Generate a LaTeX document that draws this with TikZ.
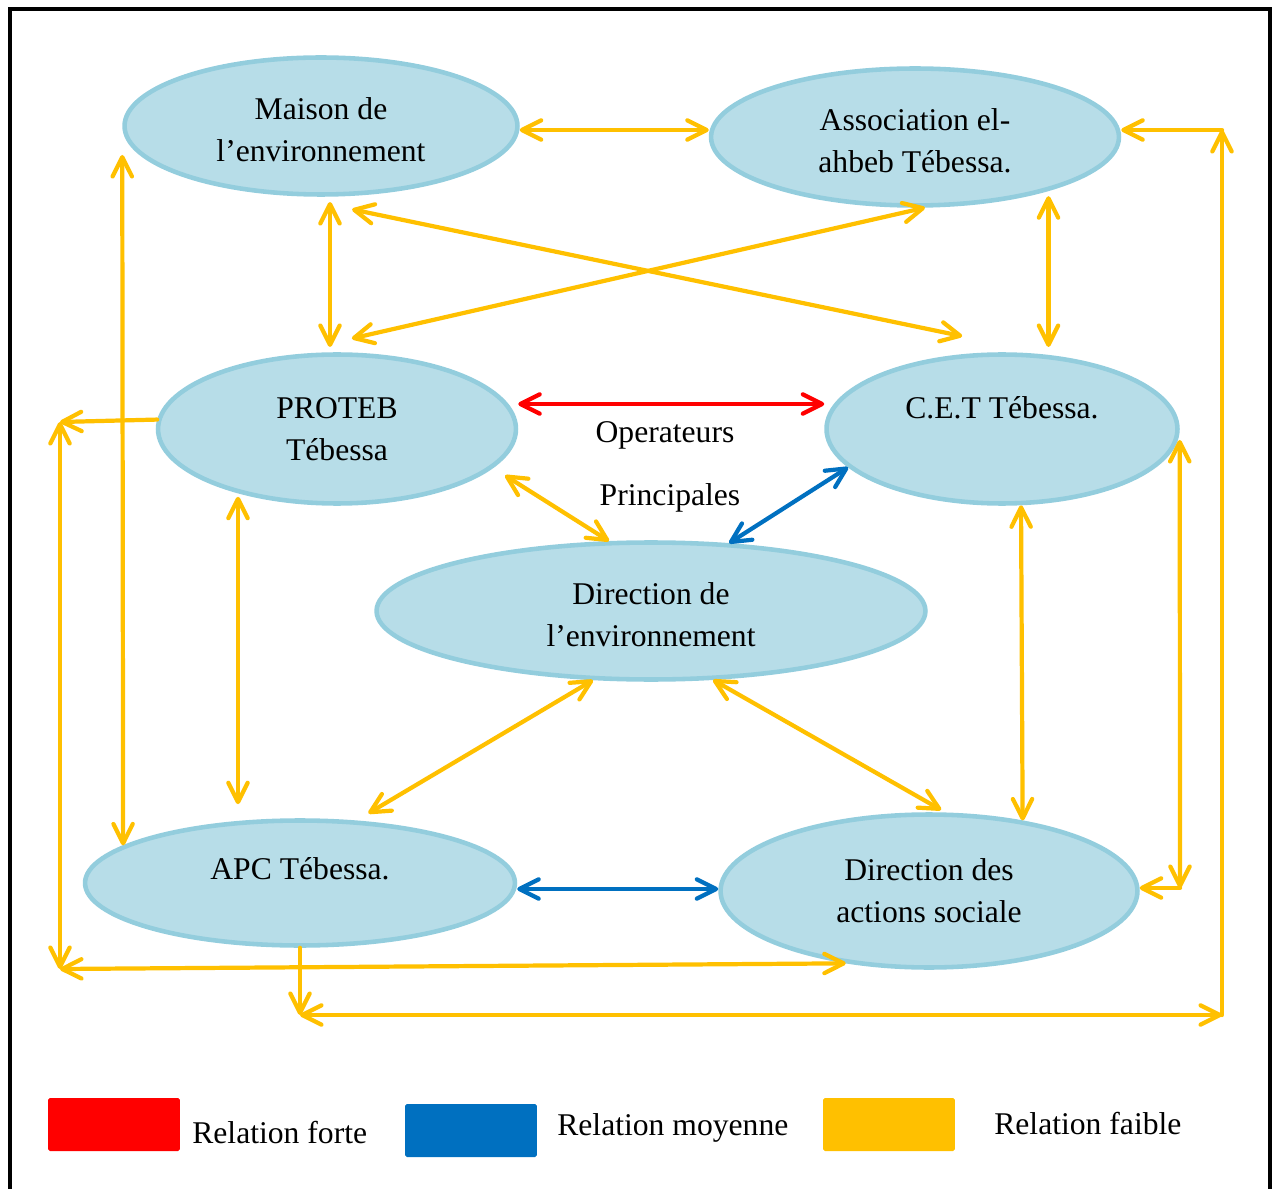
\documentclass[tikz,border=0pt]{standalone}
\usepackage{fontspec}
\setmainfont{Liberation Serif}
\usetikzlibrary{arrows.meta,calc,shapes.geometric}
\definecolor{RelForte}{HTML}{FF0000}
\definecolor{RelMoyenne}{HTML}{0070C0}
\definecolor{RelFaible}{HTML}{FFC000}
\definecolor{BulleFond}{HTML}{B7DDE8}
\definecolor{BulleBord}{HTML}{93CDDD}
\newcommand{\baisse}[1]{\raisebox{-2.2pt}[\height][\depth]{#1}}

\begin{document}
\begin{tikzpicture}[x=0.02cm,y=-0.02cm,
  font=\fontsize{18}{23.8}\selectfont,
  >={Straight Barb[length=11pt,width=11pt,round]},
  bulle/.style={ellipse,draw=BulleBord,fill=BulleFond,line width=2.6pt,inner sep=0pt,align=center},
  lien/.style={line width=2.4pt,line cap=round,<->},
  forte/.style={lien,draw=RelForte},
  moyenne/.style={lien,draw=RelMoyenne},
  faible/.style={lien,draw=RelFaible},
  legende/.style={minimum width=2.64cm,minimum height=1.06cm,inner sep=0pt,rounded corners=1pt}]
  \useasboundingbox (0,0) rectangle (1275,1189);
  \draw[line width=2.6pt] (10,9) rectangle (1270,1220);

  % acteurs
  \node[bulle,minimum width=7.86cm,minimum height=2.74cm] (maison) at (321,126) {\baisse{Maison de}\\\baisse{l’environnement}};
  \node[bulle,minimum width=8.16cm,minimum height=2.74cm] (assoc) at (915,137) {\baisse{Association el-}\\\baisse{ahbeb Tébessa.}};
  \node[bulle,minimum width=7.16cm,minimum height=2.98cm] (proteb) at (337,429) {PROTEB\\Tébessa};
  \node[bulle,minimum width=7.02cm,minimum height=2.98cm] (cet) at (1002,429) {\raisebox{12pt}[\height][\depth]{C.E.T Tébessa.}};
  \node[bulle,minimum width=10.98cm,minimum height=2.74cm] (direnv) at (651,611) {\baisse{Direction de}\\\baisse{l’environnement}};
  \node[bulle,minimum width=8.6cm,minimum height=2.5cm] (apc) at (300,883) {\raisebox{8pt}[\height][\depth]{APC Tébessa.}};
  \node[bulle,minimum width=8.34cm,minimum height=3.06cm] (dact) at (929,891) {Direction des\\actions sociale};

  \node[anchor=base] (ops) at (665,443) {Operateurs};
  \node[anchor=base] (princ) at (670,505) {Principales};

  % coins des liens en equerre
  \coordinate (coinA) at (60,422);
  \coordinate (coinB) at (60,969);
  \coordinate (coinC) at (300,1015);
  \coordinate (coinD) at (1222,1015);
  \coordinate (coinE) at (1222,130);
  \coordinate (coinF) at (1180,888);

  % relations fortes et moyennes
  \draw[forte] ([yshift=0.5cm]proteb.east) -- ([yshift=0.5cm]cet.west);
  \draw[moyenne] (cet.194.7) -- (direnv.41.5);
  \draw[moyenne] ([yshift=-0.12cm]apc.east) -- ([yshift=-0.12cm]apc.east -| dact.west);

  % relations faibles
  \draw[faible] ([yshift=-0.08cm]maison.east) -- ([yshift=-0.08cm]maison.east -| assoc.west);
  \draw[faible,shorten <=3pt,shorten >=3pt] ([xshift=0.18cm]maison.south) -- ([xshift=0.18cm]maison.south |- proteb.north);
  \draw[faible] ([yshift=-0.27cm]maison.-66) -- ([yshift=0.36cm]cet.118);
  \draw[faible] (assoc.-82) -- ([yshift=0.28cm]proteb.79);
  \draw[faible,shorten <=3pt,shorten >=3pt] (assoc.-22.7) -- (assoc.-22.7 |- cet.north);
  \draw[faible] ([yshift=-0.58cm]maison.west) -- (apc.168.3);
  \draw[faible,shorten <=2pt,shorten >=8pt] (proteb.-147.7) -- (proteb.-147.7 |- apc.north);
  \draw[faible,shorten <=8pt] (proteb.-14.3) -- (direnv.121.5);
  \draw[faible,shorten >=8pt] (direnv.-130.4) -- (apc.48.8);
  \draw[faible,shorten >=3pt] (direnv.-48.6) -- (dact.78.5);
  \draw[faible] (cet.-76.1) -- (dact.37.7);

  \draw[faible,->] (proteb.177.8) -- (coinA);
  \draw[faible] (coinA) -- (coinB);
  \draw[faible] (coinB) -- (dact.-139.2);
  \draw[faible,->] (apc.south) -- (coinC);
  \draw[faible] (coinC) -- (coinD);
  \draw[faible,->] (coinD) -- (coinE);
  \draw[faible,->] (coinE) -- (coinE -| assoc.east);
  \draw[faible] ([yshift=-0.22cm]cet.east) -- (coinF);
  \draw[faible,->] (coinF) -- (coinF -| dact.east);

  % legende
  \node[legende,fill=RelForte] (legForte) at (114,1124.5) {};
  \node[legende,fill=RelMoyenne] (legMoyenne) at (471,1130.5) {};
  \node[legende,fill=RelFaible] (legFaible) at (889,1124.5) {};
  \node[anchor=base west,inner sep=0pt] (txtForte) at (192,1143) {Relation forte};
  \node[anchor=base west,inner sep=0pt] (txtMoyenne) at (557,1135) {Relation moyenne};
  \node[anchor=base west,inner sep=0pt] (txtFaible) at (994,1134) {Relation faible};
\end{tikzpicture}
\end{document}
